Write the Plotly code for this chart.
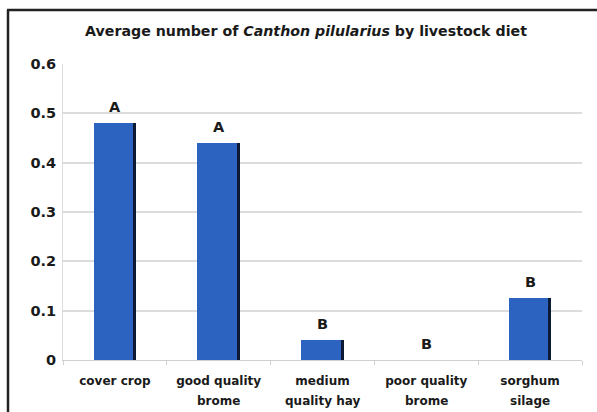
import plotly.graph_objects as go

categories = ["cover crop", "good quality<br>brome", "medium<br>quality hay", "poor quality<br>brome", "sorghum<br>silage"]
values = [0.48, 0.44, 0.04, 0.0, 0.125]
letters = ["A", "A", "B", "B", "B"]
y_ticks = [0, 0.1, 0.2, 0.3, 0.4, 0.5, 0.6]
y_tick_labels = ["0", "0.1", "0.2", "0.3", "0.4", "0.5", "0.6"]

FONT = "'DejaVu Sans', sans-serif"
W, H = 597, 412
ML, MR, MT, MB = 63, 15, 64, 52
PW, PH = W - ML - MR, H - MT - MB

def px(x):
    return (x - ML) / PW

def py(y):
    return (H - MB - y) / PH

line1 = [c.split("<br>")[0] for c in categories]
line2 = [c.split("<br>")[1] if "<br>" in c else "" for c in categories]

bw = 0.41
sh = 0.03
fig = go.Figure()
# shadow bars (dark right edge)
fig.add_trace(go.Bar(x=categories, y=values, width=bw - sh, offset=-bw / 2 + sh,
                     marker=dict(color="#0d1a33", line=dict(width=0)),
                     hoverinfo="skip", showlegend=False))
fig.add_trace(go.Bar(x=categories, y=values, width=bw - sh, offset=-bw / 2,
                     marker=dict(color="#2c62c0", line=dict(width=0)),
                     showlegend=False))

for c, v, t in zip(categories, values, letters):
    fig.add_annotation(x=c, y=v, text="<b>" + t + "</b>", showarrow=False,
                       yanchor="bottom", yshift=6, xshift=0,
                       font=dict(family=FONT, size=14.5, color="#1a1a1a"))

tickfont = dict(family=FONT, size=12, color="#1a1a1a")
# second lines of the category labels (wider line spacing than plotly's default)
for c, s in zip(categories, line2):
    if s:
        fig.add_annotation(x=c, y=0, text="<b>" + s + "</b>", showarrow=False,
                           yanchor="top", yshift=-32, font=tickfont)

fig.update_layout(
    width=W, height=H,
    margin=dict(l=ML, r=MR, t=MT, b=MB),
    paper_bgcolor="white", plot_bgcolor="white",
    barmode="overlay", bargap=0,
    title=dict(text="<b>Average number of <i>Canthon pilularius</i> by livestock diet</b>",
               xref="container", x=306 / W, xanchor="center", y=1 - 31 / H, yanchor="middle",
               font=dict(family=FONT, size=14.2, color="#1a1a1a")),
    xaxis=dict(type="category", categoryarray=categories, tickvals=categories,
               ticktext=["<b>" + s + "</b>" for s in line1], tickfont=tickfont,
               showgrid=False, ticks="outside", tickson="boundaries",
               ticklen=4, tickcolor="#d0d0d0", showline=True,
               linecolor="#d0d0d0", linewidth=1, ticklabelstandoff=10),
    yaxis=dict(range=[0, 0.6], tickvals=y_ticks, ticktext=["<b>" + s + "</b>" for s in y_tick_labels],
               tickfont=dict(family=FONT, size=14.5, color="#1a1a1a"),
               showgrid=True, gridcolor="#dcdcdc", gridwidth=1.5,
               showline=True, linecolor="#dcdcdc", linewidth=1,
               zeroline=False, ticks="", ticklabelstandoff=3),
    shapes=[
        dict(type="line", xref="paper", yref="paper", x0=px(7), x1=px(597),
             y0=py(10), y1=py(10), line=dict(color="#222222", width=2.5)),
        dict(type="line", xref="paper", yref="paper", x0=px(8), x1=px(8),
             y0=py(10), y1=py(412), line=dict(color="#222222", width=2.5)),
    ],
)
fig.write_html("out.html", config={"displayModeBar": False},
               post_script="document.body.style.margin='0';document.body.style.overflow='hidden';")
